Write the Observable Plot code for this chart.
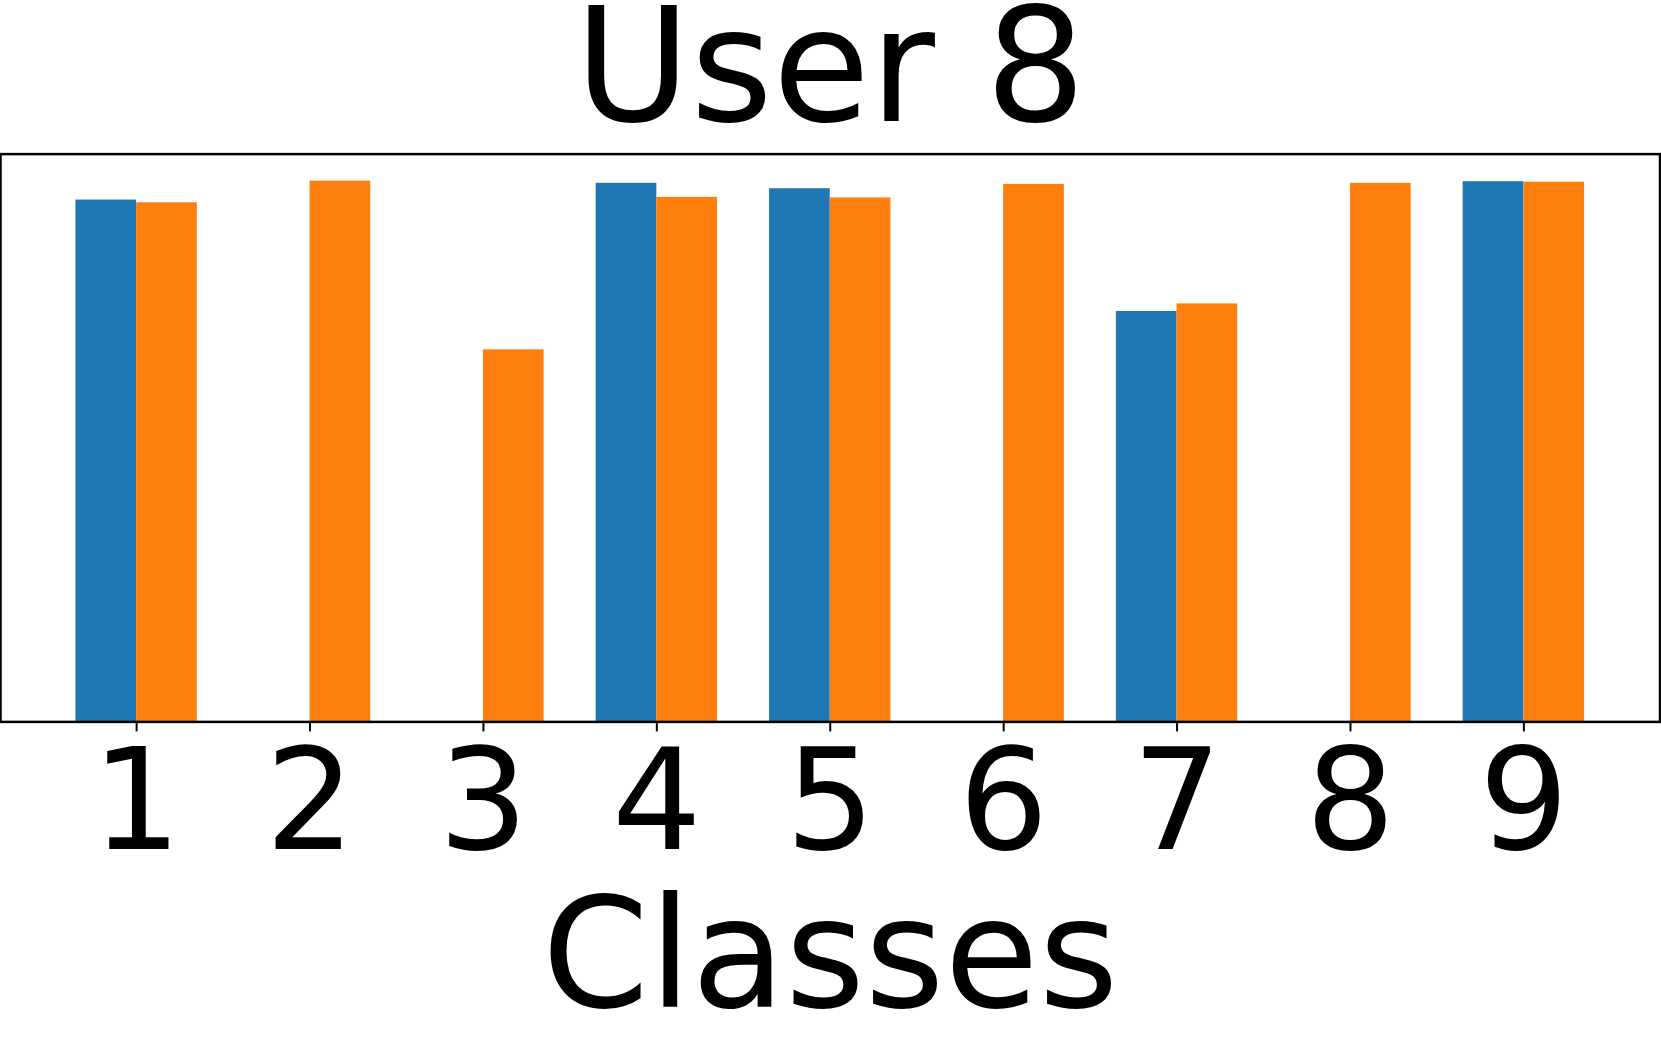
<!DOCTYPE html>
<html>
<head>
<meta charset="utf-8">
<script src="https://cdn.jsdelivr.net/npm/d3@7"></script>
<script src="https://cdn.jsdelivr.net/npm/@observablehq/plot@0.6"></script>
<style>
  html, body { margin: 0; padding: 0; background: white; }
  #chart svg { display: block; }
</style>
</head>
<body>
<div id="chart"></div>
<script>
// Chart data
const titleText = "User 8";
const xLabel = "Classes";
const classes = [1, 2, 3, 4, 5, 6, 7, 8, 9];
const seriesA = [0.965, 0, 0, 0.996, 0.986, 0, 0.759, 0, 0.999];   // blue
const seriesB = [0.960, 1.000, 0.688, 0.970, 0.969, 0.994, 0.773, 0.996, 0.998]; // orange
const colorA = "#1f77b4";
const colorB = "#ff7f0e";
const barWidth = 0.35;

const rowsA = classes.map((c, i) => ({cls: c, value: seriesA[i]}));
const rowsB = classes.map((c, i) => ({cls: c, value: seriesB[i]}));
const maxVal = d3.max([...seriesA, ...seriesB]);
const xMin = 1 - barWidth, xMax = 9 + barWidth;
const pad = (xMax - xMin) * 0.05;

const chart = Plot.plot({
  width: 1661,
  height: 1038,
  marginLeft: 0,
  marginRight: 1.5,
  marginTop: 153.6,
  marginBottom: 316.6,
  style: {fontFamily: "DejaVu Sans", background: "white", color: "black", overflow: "visible"},
  x: {type: "linear", domain: [xMin - pad, xMax + pad]},
  y: {domain: [0, maxVal * 1.05], axis: null},
  marks: [
    Plot.rectY(rowsA, {x1: d => d.cls - barWidth, x2: d => d.cls, y1: 0, y2: "value", fill: colorA}),
    Plot.rectY(rowsB, {x1: d => d.cls, x2: d => d.cls + barWidth, y1: 0, y2: "value", fill: colorB}),
    Plot.frame({stroke: "black", strokeWidth: 2.5}),
    Plot.axisX({
      ticks: classes,
      tickFormat: d => String(d),
      tickSize: 10,
      tickPadding: 16.5,
      strokeWidth: 2,
      fontSize: 141,
      label: null,
      fill: "black"
    }),
    Plot.text([titleText], {
      text: d => d, frameAnchor: "top", dy: -32.8, lineAnchor: "bottom",
      fontSize: 158, fill: "black"
    }),
    Plot.text([xLabel], {
      text: d => d, frameAnchor: "bottom", dy: 285.3, lineAnchor: "bottom",
      fontSize: 153, fill: "black"
    })
  ]
});
document.getElementById("chart").appendChild(chart);
</script>
</body>
</html>
